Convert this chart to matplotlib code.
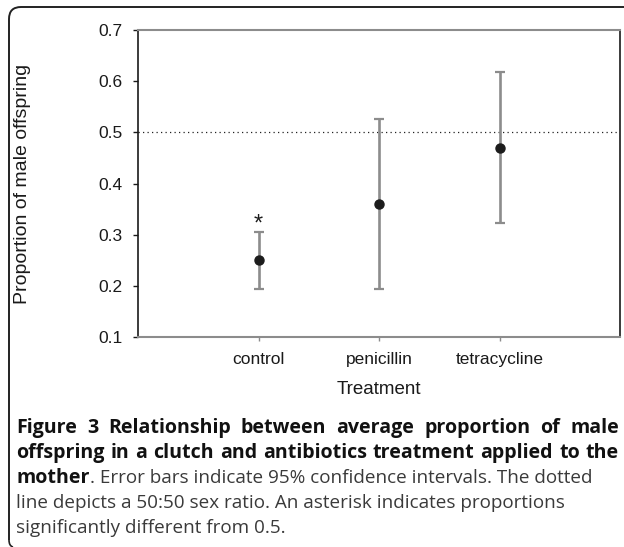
import matplotlib
matplotlib.use("Agg")
import matplotlib.pyplot as plt
from matplotlib.path import Path
from matplotlib.patches import PathPatch

# ---------- DATA ----------
treatments = ["control", "penicillin", "tetracycline"]
mean_prop = [0.25, 0.36, 0.47]
ci_low = [0.194, 0.194, 0.323]
ci_high = [0.306, 0.526, 0.617]
significant = [True, False, False]
asterisk_y = 0.336
ref_ratio = 0.5
y_ticks = [0.1, 0.2, 0.3, 0.4, 0.5, 0.6, 0.7]

caption_bold_1 = "Figure 3 Relationship between average proportion of male"
caption_bold_2 = "offspring in a clutch and antibiotics treatment applied to the"
caption_bold_3 = "mother"
caption_rest_3 = ". Error bars indicate 95% confidence intervals. The dotted"
caption_rest_4 = "line depicts a 50:50 sex ratio. An asterisk indicates proportions"
caption_rest_5 = "significantly different from 0.5."

# ---------- FIGURE ----------
W, H = 624, 547
fig = plt.figure(figsize=(W / 100, H / 100), dpi=100)
fig.patch.set_facecolor("white")


def fx(px):
    return px / W


def fy(py):
    return 1 - py / H


ax = fig.add_axes([fx(138), fy(337), (620 - 138) / W, (337 - 30) / H])

xs = list(range(1, len(treatments) + 1))
yerr = [[m - lo for m, lo in zip(mean_prop, ci_low)],
        [hi - m for m, hi in zip(mean_prop, ci_high)]]
ax.errorbar(xs, mean_prop, yerr=yerr, fmt="o", color="#1c1c1c", ms=6.5,
            ecolor="#8c8c8c", elinewidth=1.9, capsize=3.8, capthick=1.6, zorder=3)
ax.axhline(ref_ratio, color="#222222", lw=0.9, ls=(0, (1, 2.6)), zorder=1)

for xi, sig in zip(xs, significant):
    if sig:
        ax.annotate("*", (xi, asterisk_y), xytext=(0, -10), textcoords="offset points",
                    ha="center", va="baseline", fontsize=17, color="#1c1c1c",
                    family="Liberation Sans")

ax.set_xlim(0, len(treatments) + 1)
ax.set_ylim(y_ticks[0], y_ticks[-1])
ax.set_xticks(xs)
ax.set_xticklabels(treatments, family="Liberation Sans", fontsize=12.5, color="#1a1a1a")
ax.set_yticks(y_ticks)
ax.set_yticklabels([f"{t:.1f}" for t in y_ticks], family="Liberation Sans",
                   fontsize=12.5, color="#1a1a1a")
ax.tick_params(axis="y", direction="out", length=3.6, width=1, color="#1a1a1a", pad=7.5)
ax.tick_params(axis="x", direction="out", length=3, width=1, color="#8c8c8c", pad=8)

for side in ["left", "right"]:
    ax.spines[side].set_color("#1a1a1a")
    ax.spines[side].set_linewidth(1.2)
for side in ["top", "bottom"]:
    ax.spines[side].set_color("#8c8c8c")
    ax.spines[side].set_linewidth(1.5)

ax.set_xlabel("Treatment", family="Liberation Sans", fontsize=13.5, color="#1a1a1a")
ax.xaxis.set_label_coords(0.5, (337 - 390) / 307)
ax.xaxis.label.set_va("center")
ax.set_ylabel("Proportion of male offspring", family="Liberation Sans", fontsize=14,
              color="#1a1a1a")
ax.yaxis.set_label_coords((23 - 138) / 482, 0.5)
ax.yaxis.label.set_va("center")

# ---------- FRAME ----------
frame = Path([(fx(9), fy(540)), (fx(9), fy(19)), (fx(9), fy(7)), (fx(21), fy(7)),
              (fx(624), fy(7))],
             [Path.MOVETO, Path.LINETO, Path.CURVE3, Path.CURVE3, Path.LINETO])
fig.add_artist(PathPatch(frame, transform=fig.transFigure, fill=False,
                         edgecolor="#222222", lw=1.4))
curl = Path([(fx(9), fy(540)), (fx(9), fy(546)), (fx(13), fy(547))],
            [Path.MOVETO, Path.CURVE3, Path.CURVE3])
fig.add_artist(PathPatch(curl, transform=fig.transFigure, fill=False,
                         edgecolor="#222222", lw=1.2))

# ---------- CAPTION ----------
cap_font = "Open Sans"
left_px, right_px = 16, 619
bold_kw = dict(family=cap_font, weight="bold", color="#111111", va="baseline")
reg_kw = dict(family=cap_font, color="#3a3a3a", va="baseline")
fig.canvas.draw()
renderer = fig.canvas.get_renderer()


def text_width(s, size, **kw):
    t = fig.text(0, 0, s, fontsize=size, **kw)
    w = t.get_window_extent(renderer).width
    t.remove()
    return w


# regular size: line 4 runs to x=560; bold lines 1-2 are justified
reg_size = 12 * (560 - left_px) / text_width(caption_rest_4, 12, **reg_kw)
bold_size = 12 * (586 - left_px) / text_width(caption_bold_1, 12, **bold_kw)


def justified(line, y, size, kw):
    words = line.split(" ")
    widths = [text_width(w_, size, **kw) for w_ in words]
    gap = (right_px - left_px - sum(widths)) / (len(words) - 1)
    x = left_px
    for word, w_ in zip(words, widths):
        fig.text(fx(x), fy(y), word, fontsize=size, **kw)
        x += w_ + gap


justified(caption_bold_1, 433, bold_size, bold_kw)
justified(caption_bold_2, 458, bold_size, bold_kw)
w3 = text_width(caption_bold_3, bold_size, **bold_kw)
fig.text(fx(left_px), fy(483), caption_bold_3, fontsize=bold_size, **bold_kw)
fig.text(fx(left_px + w3), fy(483), caption_rest_3, fontsize=reg_size, **reg_kw)
fig.text(fx(left_px), fy(508), caption_rest_4, fontsize=reg_size, **reg_kw)
fig.text(fx(left_px), fy(533), caption_rest_5, fontsize=reg_size, **reg_kw)

fig.savefig("out.png", dpi=100, facecolor="white")
